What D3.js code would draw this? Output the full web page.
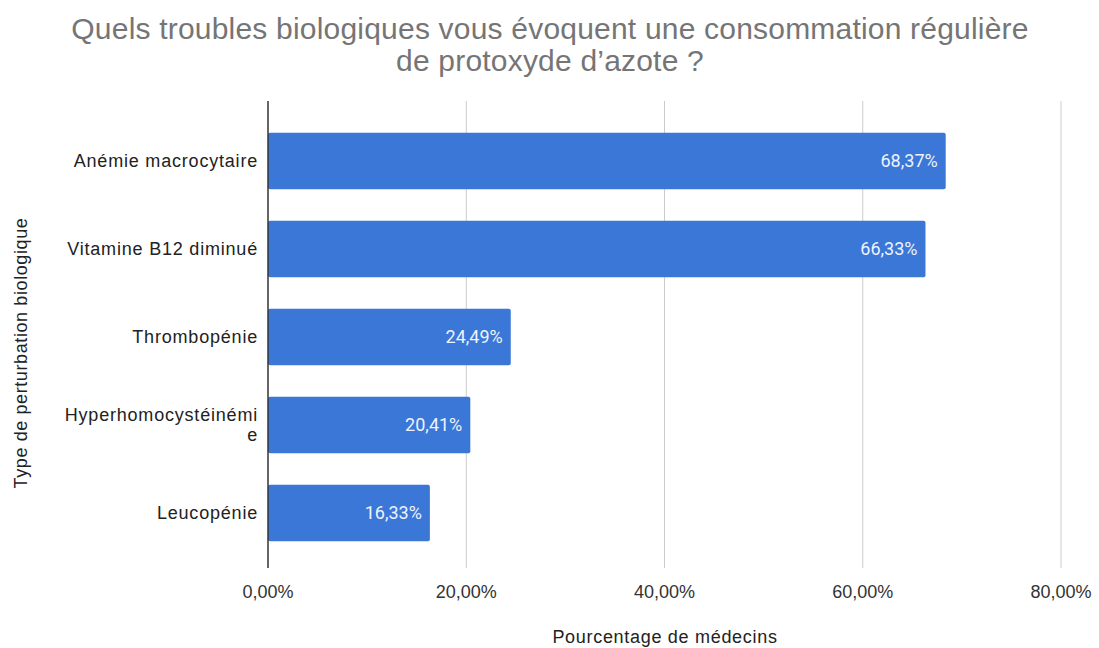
<!DOCTYPE html>
<html><head><meta charset="utf-8">
<script src="https://cdn.jsdelivr.net/npm/d3@7"></script>
<style>body{margin:0;background:#fff}svg{display:block}</style>
</head><body>
<svg id="c" width="1099" height="648"></svg>
<script>
const categories = ["Anémie macrocytaire","Vitamine B12 diminué","Thrombopénie","Hyperhomocystéinémie","Leucopénie"];
const categoryLines = [["Anémie macrocytaire"],["Vitamine B12 diminué"],["Thrombopénie"],["Hyperhomocystéinémi","e"],["Leucopénie"]];
const values = [68.37, 66.33, 24.49, 20.41, 16.33];
const valueLabels = ["68,37%","66,33%","24,49%","20,41%","16,33%"];
const xTicks = [0,20,40,60,80];
const xTickLabels = ["0,00%","20,00%","40,00%","60,00%","80,00%"];
const titleLines = ["Quels troubles biologiques vous évoquent une consommation régulière","de protoxyde d’azote ?"];
const xTitle = "Pourcentage de médecins";
const yTitle = "Type de perturbation biologique";

const svg = d3.select("#c");
const x = d3.scaleLinear().domain([0,80]).range([268,1061]);
const y = d3.scaleBand().domain(categories).range([117,557]).paddingInner(0.36).paddingOuter(0.18);
const plotTop = 101, plotBottom = 568;
const FONT = "Liberation Sans, Arial, sans-serif";

svg.append("g").selectAll("line").data(xTicks.slice(1)).join("line")
  .attr("x1",d=>x(d)).attr("x2",d=>x(d)).attr("y1",plotTop).attr("y2",plotBottom)
  .attr("stroke","#cccccc").attr("stroke-width",1);

svg.append("g").selectAll("rect").data(values).join("rect")
  .attr("x",x(0)).attr("y",(d,i)=>y(categories[i]))
  .attr("width",d=>x(d)-x(0)).attr("height",y.bandwidth())
  .attr("rx",2).attr("fill","#3a77d7");

svg.append("g").selectAll("text").data(values).join("text")
  .attr("x",d=>x(d)-8).attr("y",(d,i)=>y(categories[i])+y.bandwidth()/2)
  .attr("dy","0.35em").attr("text-anchor","end")
  .attr("font-family","Roboto, sans-serif").attr("font-size",18).attr("fill","#eef3fb")
  .text((d,i)=>valueLabels[i]);

svg.append("line").attr("x1",x(0)).attr("x2",x(0)).attr("y1",plotTop).attr("y2",plotBottom)
  .attr("stroke","#333").attr("stroke-width",1.5);

const cl = svg.append("g").selectAll("text").data(categories).join("text")
  .attr("text-anchor","end").attr("font-family",FONT)
  .attr("font-size",18).attr("letter-spacing",0.8).attr("fill","#222");
cl.each(function(d,i){
  const lines = categoryLines[i];
  const cy = y(d)+y.bandwidth()/2;
  const lh = 20;
  lines.forEach((t,j)=>{
    d3.select(this).append("tspan").attr("x",258)
      .attr("y",cy + (j-(lines.length-1)/2)*lh).attr("dy","0.35em").text(t);
  });
});

svg.append("g").selectAll("text").data(xTicks).join("text")
  .attr("x",d=>x(d)).attr("y",598).attr("text-anchor","middle")
  .attr("font-family",FONT).attr("font-size",18).attr("fill","#333")
  .text((d,i)=>xTickLabels[i]);

svg.append("text").attr("x",665).attr("y",643).attr("text-anchor","middle")
  .attr("font-family",FONT).attr("font-size",18).attr("letter-spacing",0.7).attr("fill","#222")
  .text(xTitle);

svg.append("text").attr("transform","translate(27,353) rotate(-90)").attr("text-anchor","middle")
  .attr("font-family",FONT).attr("font-size",18).attr("letter-spacing",0.6).attr("fill","#222")
  .text(yTitle);

svg.append("g").selectAll("text").data(titleLines).join("text")
  .attr("x",550).attr("y",(d,i)=>39+i*32).attr("text-anchor","middle")
  .attr("font-family",FONT).attr("font-size",30).attr("letter-spacing",0.2).attr("fill","#757575")
  .text(d=>d);
</script>
</body></html>
